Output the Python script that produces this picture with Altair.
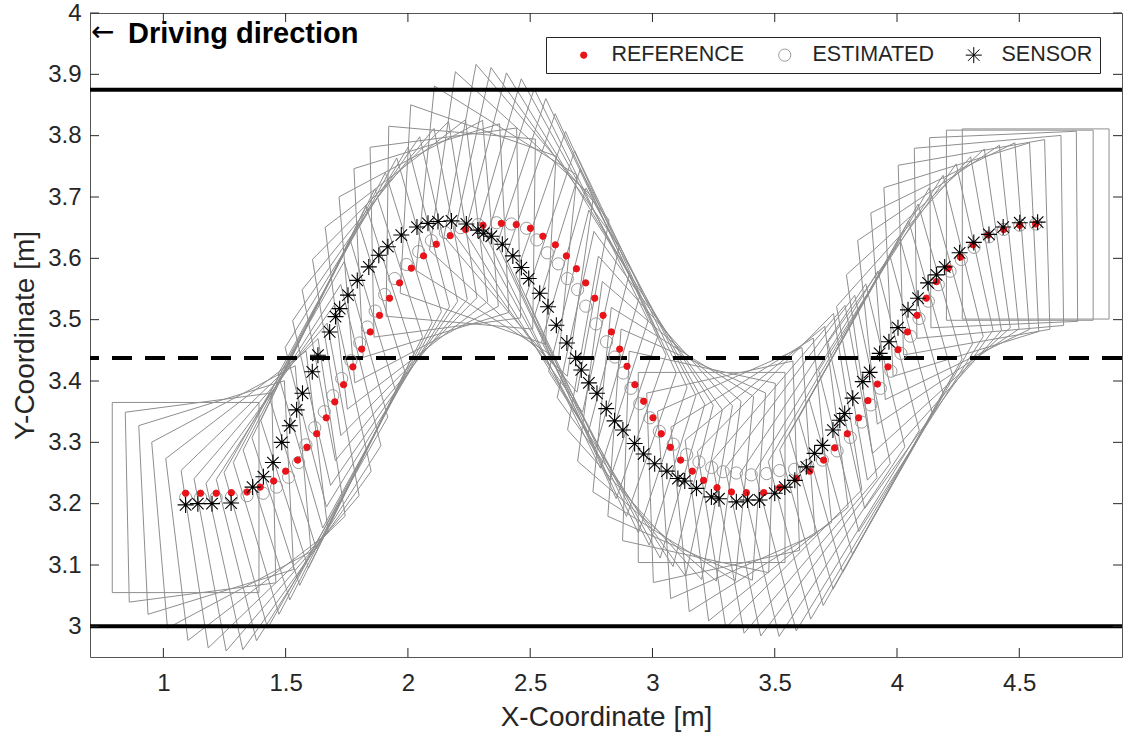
import altair as alt
import pandas as pd
import numpy as np

# ---------------- data ----------------
ref_x = [1.091, 1.152, 1.216, 1.278, 1.342, 1.396, 1.451, 1.500, 1.549, 1.587,
         1.627, 1.666, 1.701, 1.737, 1.775, 1.811, 1.846, 1.884, 1.925, 1.966,
         2.014, 2.064, 2.116, 2.173, 2.236, 2.307, 2.382, 2.443, 2.501, 2.552,
         2.603, 2.648, 2.689, 2.727, 2.764, 2.798, 2.832, 2.866, 2.896, 2.928,
         2.964, 3.002, 3.036, 3.073, 3.115, 3.163, 3.209, 3.264, 3.323, 3.384,
         3.455, 3.520, 3.589, 3.643, 3.700, 3.745, 3.797, 3.843, 3.881, 3.920,
         3.963, 4.004, 4.043, 4.082, 4.120, 4.161, 4.209, 4.259, 4.311, 4.372,
         4.436, 4.502, 4.567]
ref_y = [3.217, 3.217, 3.217, 3.218, 3.219, 3.227, 3.237, 3.253, 3.271, 3.292,
         3.314, 3.340, 3.366, 3.394, 3.423, 3.452, 3.480, 3.507, 3.535, 3.560,
         3.584, 3.604, 3.623, 3.637, 3.647, 3.654, 3.657, 3.655, 3.649, 3.636,
         3.622, 3.604, 3.583, 3.560, 3.535, 3.507, 3.480, 3.452, 3.424, 3.394,
         3.367, 3.340, 3.314, 3.292, 3.271, 3.253, 3.238, 3.226, 3.219, 3.218,
         3.218, 3.226, 3.241, 3.253, 3.271, 3.291, 3.314, 3.340, 3.368, 3.395,
         3.423, 3.451, 3.480, 3.507, 3.535, 3.562, 3.584, 3.602, 3.622, 3.638,
         3.647, 3.654, 3.656]

est_x = [1.091, 1.152, 1.216, 1.278, 1.342, 1.408, 1.463, 1.512, 1.553, 1.583,
         1.619, 1.658, 1.693, 1.729, 1.767, 1.803, 1.834, 1.866, 1.905, 1.946,
         1.994, 2.044, 2.096, 2.153, 2.216, 2.287, 2.362, 2.423, 2.485, 2.527,
         2.570, 2.615, 2.652, 2.694, 2.727, 2.769, 2.812, 2.846, 2.880, 2.912,
         2.948, 2.990, 3.028, 3.085, 3.140, 3.190, 3.242, 3.289, 3.343, 3.404,
         3.467, 3.520, 3.581, 3.635, 3.695, 3.755, 3.809, 3.855, 3.893, 3.932,
         3.975, 4.016, 4.055, 4.090, 4.128, 4.169, 4.217, 4.263, 4.315, 4.376,
         4.436, 4.502, 4.567]
est_y = [3.210, 3.210, 3.210, 3.211, 3.213, 3.217, 3.227, 3.243, 3.267, 3.296,
         3.324, 3.350, 3.376, 3.404, 3.433, 3.462, 3.488, 3.514, 3.541, 3.567,
         3.590, 3.611, 3.629, 3.642, 3.650, 3.655, 3.658, 3.656, 3.649, 3.630,
         3.609, 3.591, 3.567, 3.549, 3.522, 3.493, 3.464, 3.439, 3.413, 3.388,
         3.363, 3.340, 3.318, 3.297, 3.280, 3.268, 3.259, 3.252, 3.250, 3.247,
         3.249, 3.254, 3.256, 3.262, 3.271, 3.286, 3.308, 3.333, 3.361, 3.388,
         3.416, 3.445, 3.473, 3.502, 3.530, 3.557, 3.579, 3.598, 3.618, 3.635,
         3.647, 3.654, 3.656]
# vehicle yaw (degrees) drawn at each estimated pose
heading_deg = [0, 3, 7, 12, 17, 21, 25, 29, 32, 35,
               37, 38, 39, 39, 38, 36, 33, 30, 26, 22,
               17, 12, 7, 3, -2, -8, -14, -20, -25, -29,
               -33, -36, -39, -40, -41, -41, -40, -38, -36, -32,
               -29, -24, -19, -14, -10, -5, 0, 5, 10, 14,
               18, 22, 25, 28, 31, 33, 34, 35, 35.5, 35.5,
               35, 32, 29, 24, 20, 15, 11, 7, 4, 2,
               1, 0, 0]

sen_x = [1.091, 1.141, 1.199, 1.277, 1.365, 1.409, 1.448, 1.484, 1.517, 1.545,
         1.569, 1.609, 1.632, 1.680, 1.704, 1.721, 1.755, 1.793, 1.840, 1.881,
         1.918, 1.973, 2.037, 2.082, 2.123, 2.178, 2.239, 2.286, 2.310, 2.341,
         2.386, 2.429, 2.464, 2.494, 2.539, 2.573, 2.607, 2.650, 2.686, 2.709,
         2.740, 2.773, 2.811, 2.845, 2.879, 2.927, 2.964, 3.009, 3.059, 3.104,
         3.132, 3.180, 3.241, 3.272, 3.343, 3.389, 3.438, 3.500, 3.541, 3.582,
         3.629, 3.663, 3.695, 3.738, 3.766, 3.786, 3.819, 3.860, 3.888, 3.929,
         3.967, 4.004, 4.045, 4.086, 4.127, 4.161, 4.195, 4.256, 4.314, 4.376,
         4.434, 4.502, 4.575]
sen_y = [3.198, 3.200, 3.200, 3.201, 3.227, 3.244, 3.267, 3.300, 3.327, 3.353,
         3.380, 3.415, 3.442, 3.480, 3.505, 3.518, 3.540, 3.564, 3.586, 3.605,
         3.619, 3.638, 3.651, 3.657, 3.660, 3.661, 3.656, 3.646, 3.641, 3.636,
         3.623, 3.604, 3.585, 3.567, 3.543, 3.521, 3.491, 3.462, 3.437, 3.418,
         3.397, 3.380, 3.355, 3.335, 3.320, 3.298, 3.281, 3.265, 3.253, 3.241,
         3.237, 3.225, 3.211, 3.208, 3.203, 3.206, 3.206, 3.217, 3.227, 3.238,
         3.260, 3.282, 3.295, 3.320, 3.336, 3.347, 3.372, 3.399, 3.414, 3.445,
         3.464, 3.487, 3.516, 3.535, 3.560, 3.573, 3.586, 3.609, 3.626, 3.639,
         3.651, 3.658, 3.659]

road_edges = [3.0, 3.875]
lane_center = [3.4375]
x_ticks = [1, 1.5, 2, 2.5, 3, 3.5, 4, 4.5]
y_ticks = [3.0, 3.1, 3.2, 3.3, 3.4, 3.5, 3.6, 3.7, 3.8, 3.9, 4.0]
series_names = ["REFERENCE", "ESTIMATED", "SENSOR"]

X_DOMAIN = [0.7, 4.92]
Y_DOMAIN = [2.95, 4.0]
CAR_LENGTH = 0.6
CAR_WIDTH = 0.31

# ---------------- derived tables ----------------
corners = [(-0.5, -0.5), (0.5, -0.5), (0.5, 0.5), (-0.5, 0.5), (-0.5, -0.5)]
rows = []
for i, (cx, cy, h) in enumerate(zip(est_x, est_y, heading_deg)):
    t = np.deg2rad(h)
    for k, (a, b) in enumerate(corners):
        a *= CAR_LENGTH
        b *= CAR_WIDTH
        rows.append({"car": i, "k": k,
                     "x": cx + a * np.cos(t) - b * np.sin(t),
                     "y": cy + a * np.sin(t) + b * np.cos(t)})
cars = pd.DataFrame(rows)

ref_df = pd.DataFrame({"x": ref_x, "y": ref_y, "series": "REFERENCE"})
est_df = pd.DataFrame({"x": est_x, "y": est_y, "series": "ESTIMATED"})
sen_df = pd.DataFrame({"x": sen_x, "y": sen_y, "series": "SENSOR"})

FONT = "Liberation Sans"
TXT = "#262626"
xs = alt.Scale(domain=X_DOMAIN, nice=False, zero=False)
ys = alt.Scale(domain=Y_DOMAIN, nice=False, zero=False)

x_axis = alt.Axis(values=x_ticks, format="~g", title="X-Coordinate [m]", tickSize=0,
                  domain=False, grid=False, labelFontSize=24, titleFontSize=28,
                  labelFont=FONT, titleFont=FONT, labelColor=TXT, titleColor=TXT,
                  titleFontWeight="normal", labelPadding=14, titlePadding=8,
                  labelFlush=False, labelOverlap=False)
y_axis = alt.Axis(values=y_ticks, format="~g", title="Y-Coordinate [m]", tickSize=0,
                  domain=False, grid=False, labelFontSize=24, titleFontSize=28,
                  labelFont=FONT, titleFont=FONT, labelColor=TXT, titleColor=TXT,
                  titleFontWeight="normal", labelPadding=9, titlePadding=8,
                  labelFlush=False, labelOverlap=False)

car_layer = alt.Chart(cars).mark_line(color="#8e8e8e", strokeWidth=1).encode(
    x=alt.X("x:Q", scale=xs, axis=x_axis),
    y=alt.Y("y:Q", scale=ys, axis=y_axis),
    detail="car:N",
    order="k:Q",
)

edge_layer = alt.Chart(pd.DataFrame({"y": road_edges})).mark_rule(
    color="black", strokeWidth=4).encode(y=alt.Y("y:Q", scale=ys))
lane_layer = alt.Chart(pd.DataFrame({"y": lane_center})).mark_rule(
    color="black", strokeWidth=4, strokeDash=[20, 13]).encode(y=alt.Y("y:Q", scale=ys))

# inward tick marks (box style)
tx = 9 / 1032 * (X_DOMAIN[1] - X_DOMAIN[0])
ty = 9 / 644 * (Y_DOMAIN[1] - Y_DOMAIN[0])
xt = pd.DataFrame({"x": x_ticks})
yt = pd.DataFrame({"y": y_ticks})
tick_style = dict(color=TXT, strokeWidth=1)
ticks = [
    alt.Chart(xt).mark_rule(**tick_style).encode(
        x=alt.X("x:Q", scale=xs), y=alt.datum(Y_DOMAIN[0]), y2=alt.datum(Y_DOMAIN[0] + ty)),
    alt.Chart(xt).mark_rule(**tick_style).encode(
        x=alt.X("x:Q", scale=xs), y=alt.datum(Y_DOMAIN[1]), y2=alt.datum(Y_DOMAIN[1] - ty)),
    alt.Chart(yt).mark_rule(**tick_style).encode(
        y=alt.Y("y:Q", scale=ys), x=alt.datum(X_DOMAIN[0]), x2=alt.datum(X_DOMAIN[0] + tx)),
    alt.Chart(yt).mark_rule(**tick_style).encode(
        y=alt.Y("y:Q", scale=ys), x=alt.datum(X_DOMAIN[1]), x2=alt.datum(X_DOMAIN[1] - tx)),
]

ASTERISK = "M-1,0L1,0M0,-1L0,1M-0.72,-0.72L0.72,0.72M-0.72,0.72L0.72,-0.72"
legend = alt.Legend(orient="none", legendX=456, legendY=24, direction="horizontal",
                    title=None, labelFont=FONT, labelFontSize=21.5, labelColor=TXT,
                    strokeColor=TXT, fillColor="white", padding=7, symbolOffset=20,
                    labelOffset=17, columnPadding=9, symbolStrokeWidth=1)
enc = dict(
    x=alt.X("x:Q", scale=xs),
    y=alt.Y("y:Q", scale=ys),
    shape=alt.Shape("series:N", scale=alt.Scale(domain=series_names,
                    range=["circle", "circle", ASTERISK]), legend=legend),
    fill=alt.Fill("series:N", scale=alt.Scale(domain=series_names,
                  range=["#e8141a", "transparent", "transparent"]), legend=legend),
    stroke=alt.Stroke("series:N", scale=alt.Scale(domain=series_names,
                      range=["#e8141a", "#9a9a9a", "#000000"]), legend=legend),
    size=alt.Size("series:N", scale=alt.Scale(domain=series_names,
                  range=[40, 256, 210]), legend=legend),
)
est_layer = alt.Chart(est_df).mark_point(filled=False, strokeWidth=1, opacity=1).encode(**enc)
ref_layer = alt.Chart(ref_df).mark_point(filled=False, strokeWidth=1, opacity=1).encode(**enc)
sen_layer = alt.Chart(sen_df).mark_point(filled=False, strokeWidth=1.1, opacity=1).encode(**enc)

arrow = alt.Chart(pd.DataFrame({"t": ["\u2190"]})).mark_text(
    align="left", baseline="middle", fontSize=28, font="DejaVu Sans",
    fontWeight="normal", color="black").encode(x=alt.value(1), y=alt.value(20), text="t:N")
note = alt.Chart(pd.DataFrame({"t": ["Driving direction"]})).mark_text(
    align="left", baseline="middle", fontSize=29, font=FONT,
    fontWeight="bold", color="black").encode(x=alt.value(38), y=alt.value(21), text="t:N")

chart = alt.layer(
    car_layer, edge_layer, lane_layer, *ticks, est_layer, ref_layer, sen_layer, arrow, note
).properties(
    width=1032, height=644,
    padding={"left": 90, "top": 13, "right": 3, "bottom": 76},
    autosize=alt.AutoSizeParams(type="none"),
    background="white",
).configure_view(stroke="#555555", strokeWidth=1)

chart.save("out.html", embed_options={"renderer": "svg", "actions": False})
